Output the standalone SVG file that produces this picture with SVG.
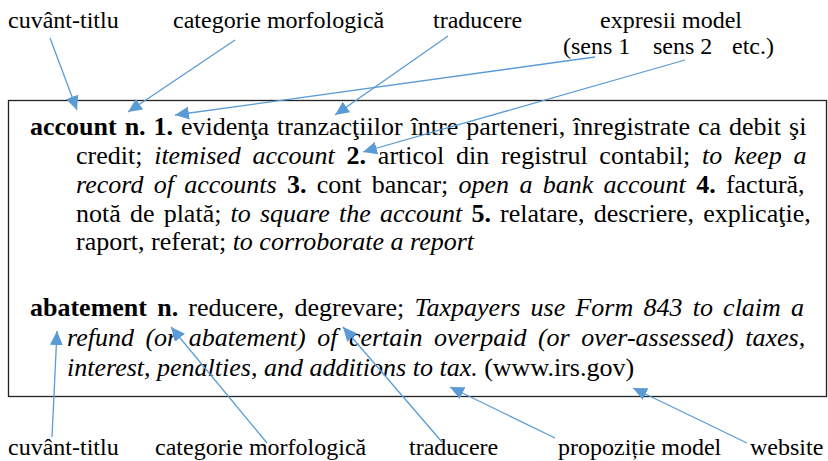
<svg xmlns="http://www.w3.org/2000/svg" width="828" height="461" viewBox="0 0 828 461">
<style>
.lbl{font-family:"Liberation Serif","Times New Roman",serif;font-size:24px;fill:#000}
.body{font-family:"Liberation Serif","Times New Roman",serif;font-size:26px;fill:#000}
.b{font-weight:bold}
.i{font-style:italic}
.conn line{stroke:#5B9BD5;stroke-width:1.3;marker-end:url(#ah)}
</style>
<defs>
<marker id="ah" markerUnits="userSpaceOnUse" markerWidth="15" markerHeight="13" refX="14" refY="6.5" orient="auto">
<path d="M0,0 L14,6.5 L0,13 z" fill="#5B9BD5"/>
</marker>
</defs>
<rect width="828" height="461" fill="#fff"/>
<g id="entry-box">
<rect x="8.5" y="100.5" width="818" height="296" fill="none" stroke="#222" stroke-width="1.3"/>
<text class="body" x="30" y="135" style="word-spacing:1.47px"><tspan class="b">account n. 1.</tspan> evidenţa tranzacţiilor între parteneri, înregistrate ca debit şi</text>
<text class="body" x="76" y="164" style="word-spacing:5.24px">credit; <tspan class="i">itemised account</tspan> <tspan class="b">2.</tspan> articol din registrul contabil; <tspan class="i">to keep a</tspan></text>
<text class="body" x="76" y="193" style="word-spacing:3.79px"><tspan class="i">record of accounts</tspan> <tspan class="b">3.</tspan> cont bancar; <tspan class="i">open a bank account</tspan> <tspan class="b">4.</tspan> factură,</text>
<text class="body" x="76" y="222" style="word-spacing:2.67px">notă de plată; <tspan class="i">to square the account</tspan> <tspan class="b">5.</tspan> relatare, descriere, explicaţie,</text>
<text class="body" x="76" y="250">raport, referat; <tspan class="i">to corroborate a report</tspan></text>
<text class="body" x="30" y="316" style="word-spacing:3.71px"><tspan class="b">abatement n.</tspan> reducere, degrevare; <tspan class="i">Taxpayers use Form 843 to claim a</tspan></text>
<text class="body i" x="67" y="346" style="word-spacing:5px">refund (or abatement) of certain overpaid (or over-assessed) taxes,</text>
<text class="body" x="67" y="376"><tspan class="i">interest, penalties, and additions to tax.</tspan> (www.irs.gov)</text>
</g>
<g id="top-cuvant-titlu"><text class="lbl" x="8" y="28">cuvânt-titlu</text></g>
<g id="top-categorie"><text class="lbl" x="173" y="28">categorie morfologică</text></g>
<g id="top-traducere"><text class="lbl" x="433" y="28">traducere</text></g>
<g id="top-expresii"><text class="lbl" x="600" y="28">expresii model</text>
<text class="lbl" x="563" y="54">(sens 1</text><text class="lbl" x="653" y="54">sens 2</text><text class="lbl" x="732" y="54">etc.)</text></g>
<g id="bot-cuvant-titlu"><text class="lbl" x="8" y="455">cuvânt-titlu</text></g>
<g id="bot-categorie"><text class="lbl" x="155" y="455">categorie morfologică</text></g>
<g id="bot-traducere"><text class="lbl" x="409" y="455">traducere</text></g>
<g id="bot-propozitie"><text class="lbl" x="558" y="455">propoziție model</text></g>
<g id="bot-website"><text class="lbl" x="750" y="455">website</text></g>
<g id="connectors" class="conn">
<line x1="50" y1="38" x2="77" y2="110"/>
<line x1="235" y1="40" x2="128" y2="112"/>
<line x1="595" y1="57" x2="175" y2="115"/>
<line x1="448" y1="36" x2="335" y2="115"/>
<line x1="685" y1="60" x2="363" y2="152"/>
<line x1="52" y1="437" x2="57" y2="331"/>
<line x1="267" y1="443" x2="171" y2="327"/>
<line x1="442" y1="442" x2="343" y2="327"/>
<line x1="555" y1="438" x2="450" y2="387"/>
<line x1="747" y1="443" x2="633" y2="388"/>
</g>
</svg>
